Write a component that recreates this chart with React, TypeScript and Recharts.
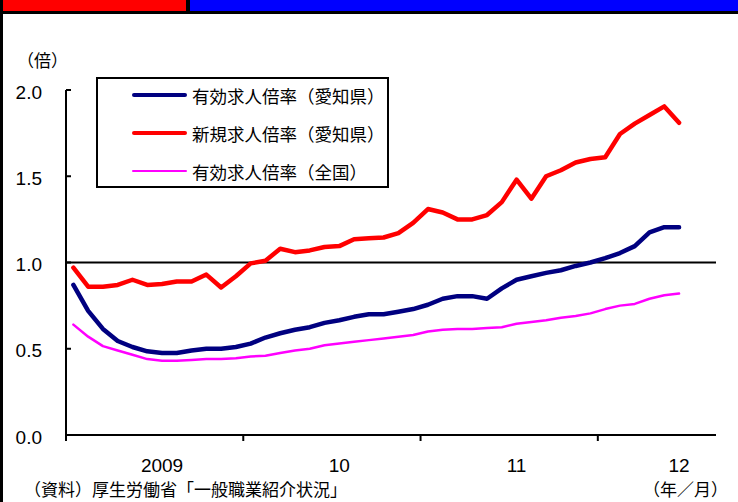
import React from 'react';
import { LineChart, Line, XAxis, YAxis, ReferenceLine, Legend } from 'recharts';

// monthly, Jan 2009 .. Jun 2012
const aichiEffective = [
  0.87, 0.72, 0.615, 0.545, 0.51, 0.485, 0.475, 0.475, 0.49, 0.5, 0.5, 0.51,
  0.53, 0.565, 0.59, 0.61, 0.625, 0.65, 0.665, 0.685, 0.7, 0.7, 0.715, 0.73,
  0.755, 0.79, 0.805, 0.805, 0.79, 0.85, 0.9, 0.92, 0.94, 0.955, 0.98, 1.0,
  1.025, 1.055, 1.095, 1.175, 1.205, 1.205,
];
const aichiNew = [
  0.97, 0.86, 0.86, 0.87, 0.9, 0.87, 0.875, 0.89, 0.89, 0.93, 0.855, 0.92,
  0.995, 1.01, 1.08, 1.06, 1.07, 1.09, 1.095, 1.135, 1.14, 1.145, 1.17, 1.23,
  1.31, 1.29, 1.25, 1.25, 1.275, 1.35, 1.48, 1.37, 1.5, 1.535, 1.58, 1.6,
  1.61, 1.745, 1.805, 1.855, 1.905, 1.81,
];
const nationalEffective = [
  0.64, 0.57, 0.515, 0.49, 0.465, 0.44, 0.43, 0.43, 0.435, 0.44, 0.44, 0.445,
  0.455, 0.46, 0.475, 0.49, 0.5, 0.52, 0.53, 0.54, 0.55, 0.56, 0.57, 0.58,
  0.6, 0.61, 0.615, 0.615, 0.62, 0.625, 0.645, 0.655, 0.665, 0.68, 0.69, 0.705,
  0.73, 0.75, 0.76, 0.79, 0.81, 0.82,
];

const YEAR_LABELS = ['2009', '10', '11', '12'];
const YEAR_LABEL_POS = [6.5, 18.5, 30.5, 41.5];
const YEAR_BOUNDARIES = [0, 12, 24, 36];
const Y_TICKS = [0, 0.5, 1, 1.5, 2];

const SERIES = [
  { key: 'aichi', name: '有効求人倍率（愛知県）', color: '#000080', width: 4.5 },
  { key: 'aichiNew', name: '新規求人倍率（愛知県）', color: '#ff0000', width: 4.5 },
  { key: 'national', name: '有効求人倍率（全国）', color: '#ff00ff', width: 2.5 },
];

const data = aichiEffective.map((v, i) => ({
  t: i + 0.5,
  aichi: v,
  aichiNew: aichiNew[i],
  national: nationalEffective[i],
}));

const NUM_FONT = '"Liberation Sans", Arial, sans-serif';
const JP_FONT = '"Noto Sans CJK JP", "Noto Sans", sans-serif';

const XTick = (props: any) => {
  const { x, y, payload } = props;
  const idx = YEAR_LABEL_POS.indexOf(payload.value);
  if (idx >= 0) {
    return (
      <text x={x} y={y + 30} textAnchor="middle" dominantBaseline="central" fontSize={19} fontFamily={NUM_FONT} fill="#000">
        {YEAR_LABELS[idx]}
      </text>
    );
  }
  return <line x1={x} x2={x} y1={y} y2={y + 6} stroke="#000" strokeWidth={2} />;
};

const YTick = (props: any) => {
  const { x, y, payload } = props;
  return (
    <g>
      <line x1={x + 24} x2={x + 29} y1={y} y2={y} stroke="#000" strokeWidth={2} />
      <text x={x} y={y + 2} textAnchor="end" dominantBaseline="central" fontSize={19} fontFamily={NUM_FONT} fill="#000">
        {payload.value.toFixed(1)}
      </text>
    </g>
  );
};

const LegendBox = () => (
  <div
    style={{
      position: 'relative',
      boxSizing: 'border-box',
      width: 293,
      height: 111,
      border: '2px solid #000',
      background: '#fff',
    }}
  >
    {SERIES.map((s, i) => (
      <div key={s.key} style={{ position: 'absolute', left: 34, top: 4 + i * 38, height: 24, display: 'flex', alignItems: 'center' }}>
        <span style={{ display: 'inline-block', width: 55, height: s.width, borderRadius: 3, background: s.color }} />
        <span style={{ marginLeft: 5, fontSize: 17.5, fontFamily: JP_FONT, whiteSpace: 'nowrap' }}>{s.name}</span>
      </div>
    ))}
  </div>
);

export default function App() {
  return (
    <div style={{ position: 'absolute', left: 0, top: 0, width: 738, height: 502, overflow: 'hidden', background: '#fff' }}>
      <div style={{ position: 'absolute', left: 0, top: 0, width: 738, height: 14, background: '#000' }} />
      <div style={{ position: 'absolute', left: 3, top: 0, width: 183, height: 11, background: '#ff0000' }} />
      <div style={{ position: 'absolute', left: 190, top: 0, width: 548, height: 11, background: '#0000ff' }} />
      <div style={{ position: 'absolute', left: 0, top: 0, width: 3, height: 502, background: '#000' }} />

      <LineChart width={738} height={502} data={data} margin={{ top: 90, right: 22, bottom: 7, left: 6 }}>
        <XAxis
          type="number"
          dataKey="t"
          domain={[0, 44]}
          ticks={[...YEAR_BOUNDARIES, ...YEAR_LABEL_POS].sort((a, b) => a - b)}
          interval={0}
          height={60}
          tickSize={0}
          tickMargin={0}
          tickLine={false}
          tick={<XTick />}
          axisLine={{ stroke: '#000', strokeWidth: 2 }}
        />
        <YAxis
          type="number"
          domain={[0, 2]}
          ticks={Y_TICKS}
          interval={0}
          width={60}
          tickSize={0}
          tickMargin={24}
          tickLine={false}
          tick={<YTick />}
          axisLine={{ stroke: '#000', strokeWidth: 2 }}
        />
        <ReferenceLine y={1} stroke="#000" strokeWidth={2} />
        <Legend
          layout="horizontal"
          verticalAlign="middle"
          align="center"
          wrapperStyle={{ left: 96, top: 77, width: 293, height: 111 }}
          content={<LegendBox />}
        />
        {SERIES.map((s) => (
          <Line
            key={s.key}
            type="linear"
            dataKey={s.key}
            name={s.name}
            stroke={s.color}
            strokeWidth={s.width}
            strokeLinejoin="round"
            strokeLinecap="round"
            dot={false}
            isAnimationActive={false}
          />
        ))}
      </LineChart>

      <div style={{ position: 'absolute', left: 17, top: 49, fontSize: 17, fontFamily: JP_FONT, lineHeight: '22px' }}>（倍）</div>
      <div style={{ position: 'absolute', left: 24, top: 478, fontSize: 17, fontFamily: JP_FONT, lineHeight: '22px', whiteSpace: 'nowrap' }}>
        （資料）厚生労働省「一般職業紹介状況」
      </div>
      <div style={{ position: 'absolute', left: 643, top: 478, fontSize: 17, fontFamily: JP_FONT, lineHeight: '22px', whiteSpace: 'nowrap' }}>
        （年／月）
      </div>
    </div>
  );
}
